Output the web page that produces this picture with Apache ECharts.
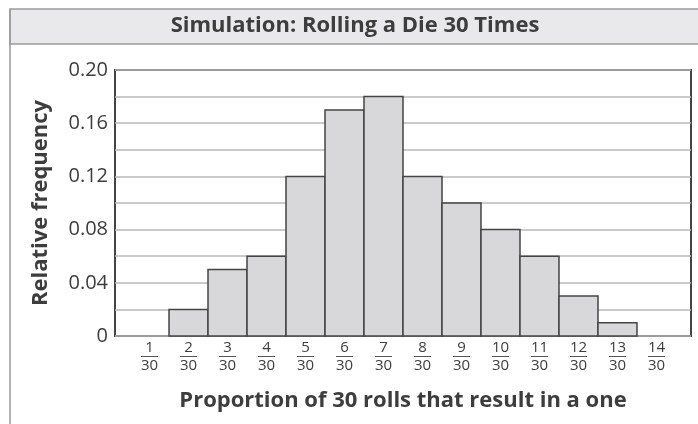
<!DOCTYPE html>
<html>
<head>
<meta charset="utf-8">
<script src="https://cdn.jsdelivr.net/npm/echarts@6/dist/echarts.min.js"></script>
<style>
html,body{margin:0;padding:0;background:#fff;}
#chart{width:698px;height:424px;}
</style>
</head>
<body>
<div id="chart"></div>
<script>
var titleText = 'Simulation: Rolling a Die 30 Times';
var xAxisName = 'Proportion of 30 rolls that result in a one';
var yAxisName = 'Relative frequency';
var numerators = [1,2,3,4,5,6,7,8,9,10,11,12,13,14];
var denominator = 30;
var relFreq = [0, 0.02, 0.05, 0.06, 0.12, 0.17, 0.18, 0.12, 0.10, 0.08, 0.06, 0.03, 0.01, 0];
var yTicks = [0, 0.04, 0.08, 0.12, 0.16, 0.20];

var FONT = '"Open Sans", "Noto Sans", sans-serif';
var TXT = '#3d3d3d';

var chart = echarts.init(document.getElementById('chart'), null, {renderer:'canvas'});

var data = numerators.map(function(n, i){ return [n, relFreq[i]]; });

chart.setOption({
  animation: false,
  backgroundColor: '#fff',
  graphic: [
    {type:'rect', shape:{x:10, y:9, width:700, height:35}, style:{fill:'#e9e9eb', stroke:'#9a9a9a', lineWidth:1.5}, z:0},
    {type:'line', shape:{x1:10, y1:9, x2:10, y2:430}, style:{stroke:'#9a9a9a', lineWidth:1.5}},
    {type:'text', x:355, y:26, style:{text:titleText, fill:TXT, font:'bold 22px ' + FONT, textAlign:'center', textVerticalAlign:'middle'}}
  ],
  grid: {left:115, right:7, top:70, bottom:88, show:true, borderColor:'#444', borderWidth:2, backgroundColor:'transparent'},
  xAxis: {
    type:'value', min:0.115, max:14.885,
    axisLine:{show:false}, axisTick:{show:false}, splitLine:{show:false},
    name: xAxisName, nameLocation:'middle', nameGap:54,
    nameTextStyle:{fontFamily:FONT, fontWeight:'bold', fontSize:22, color:TXT},
    axisLabel:{
      customValues: numerators,
      margin:5,
      formatter:function(v){ return '{n|' + v + '}\n{l| }\n{d|' + denominator + '}'; },
      rich:{
        n:{fontFamily:FONT, fontSize:15, color:TXT, lineHeight:14, align:'center'},
        l:{width:17, height:1, lineHeight:3, fontSize:1, backgroundColor:'#555'},
        d:{fontFamily:FONT, fontSize:15, color:TXT, lineHeight:16, align:'center'}
      }
    }
  },
  yAxis: {
    type:'value', min:0, max:0.2, interval:0.02,
    axisLine:{show:false}, axisTick:{show:false},
    splitLine:{show:true, lineStyle:{color:'#b8b8b8', width:1.5}},
    name: yAxisName, nameLocation:'middle', nameGap:63,
    nameTextStyle:{fontFamily:FONT, fontWeight:'bold', fontSize:22, color:TXT},
    axisLabel:{
      margin:7, fontFamily:FONT, fontSize:20, color:TXT,
      formatter:function(v){
        for (var i=0;i<yTicks.length;i++){
          if (Math.abs(yTicks[i]-v) < 1e-9) return v === 0 ? '0' : v.toFixed(2);
        }
        return '';
      }
    }
  },
  series: [{
    type:'custom',
    data: data,
    renderItem: function(params, api){
      var x = api.value(0), v = api.value(1);
      if (!v) return null;
      var p1 = api.coord([x - 0.5, v]);
      var p2 = api.coord([x + 0.5, 0]);
      return {
        type:'rect',
        shape:{x:p1[0], y:p1[1], width:p2[0]-p1[0], height:p2[1]-p1[1]},
        style:{fill:'#d8d8da', stroke:'#444', lineWidth:1.5}
      };
    },
    z: 3
  }]
});
</script>
</body>
</html>
